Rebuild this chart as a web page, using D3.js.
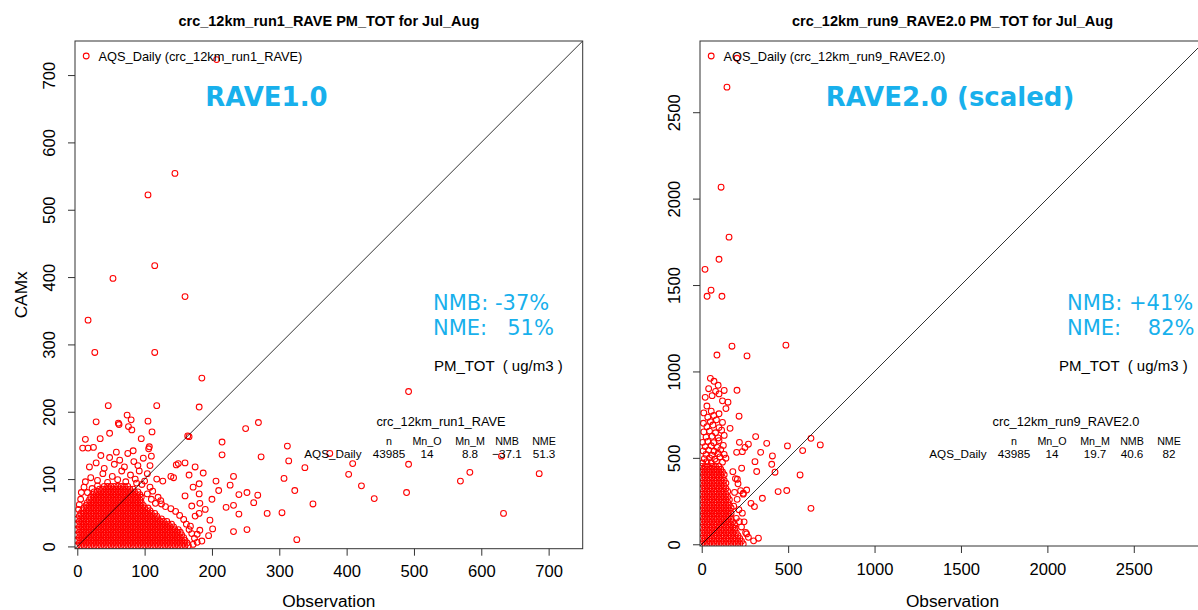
<!DOCTYPE html>
<html>
<head>
<meta charset="utf-8">
<script src="https://cdn.jsdelivr.net/npm/d3@7/dist/d3.min.js"></script>
<style>
  body{margin:0;background:#fff;}
  svg{display:block;font-family:"Liberation Sans",Arial,Helvetica,sans-serif;}
</style>
</head>
<body>
<script>
// ---- data ----
var run1Ticks=[0,100,200,300,400,500,600,700];
var run9Ticks=[0,500,1000,1500,2000,2500];
var statHeaders=["n","Mn_O","Mn_M","NMB","NME"];
var run1Stats=["43985","14","8.8","\u221237.1","51.3"];
var run9Stats=["43985","14","19.7","40.6","82"];

// isolated points [obs, model]
var run1Scatter=[[207,723],[105,522],[145,554],[53,398],[115,417],[160,371],[16,336],[26,288],[115,288],[185,250],
  [492,230],[166,163],[118,209],[46,209],[181,207],[74,195],[80,188],[105,186],[28,185],[62,181],[111,170],
  [12,159],[8,146],[16,146],[24,147],[34,160],[48,168],[61,183],[76,178],[81,173],[95,160],[106,145],[107,148],
  [164,164],[215,155],[215,136],[250,175],[269,184],[273,133],[312,149],[314,127],[307,101],[323,83],[326,10],
  [282,49],[304,50],[252,25],[232,22],[232,61],[240,48],[240,77],[252,80],[262,65],[268,76],[227,91],[232,104],
  [206,97],[210,83],[221,58],[197,39],[201,26],[182,24],[195,16],[182,64],[181,49],[181,78],[181,93],[187,109],
  [175,118],[160,124],[150,123],[147,121],[143,102],[139,104],[166,106],[127,97],[118,100],[375,138],[409,123],
  [338,117],[403,107],[492,122],[583,110],[686,108],[630,134],[422,90],[441,71],[350,63],[489,80],[569,97],
  [633,49],[170,60],[175,45],[168,30],[185,8],[178,18],[190,55],[200,70],[160,75],[172,88]];
// points just above / beside the dense block
var run1Fringe=[[12,96],[20,102],[30,98],[38,108],[45,95],[52,104],[60,99],[66,112],[72,96],[79,106],[86,100],
  [92,112],[100,97],[104,108],[18,118],[28,124],[40,116],[55,122],[63,128],[70,118],[84,126],[90,120],[98,131],
  [35,135],[48,132],[58,140],[75,138],[83,142],[108,120],[110,134],[5,70],[3,62],[2,55],[6,80],[10,88],
  [172,3],[178,6],[174,12],[170,19],[166,25],[162,33],[158,40],[152,46],[146,52],[139,56],[131,59],[125,63],
  [116,64],[124,68],[110,70],[120,73],[104,78],[112,82],[108,88],[96,92],[88,94],[30,90],[22,86],[15,80]];
// dense block, one row per model value: [model, [obs...]]
var run1Core=[
  [1,[0,5,10,15,20,25,30,35,40,45,50,55,60,65,70,75,80,85,90,95,100,105,110,115,120,125,130,135,140,145,150,155,160,165]],
  [5,[3,8,13,18,23,28,33,38,43,48,53,58,63,68,73,78,83,88,93,98,103,108,113,118,123,128,133,138,143,148,153,158,163]],
  [9,[0,5,10,15,20,25,30,35,40,45,50,55,60,65,70,75,80,85,90,95,100,105,110,115,120,125,130,135,140,145,150,155,160]],
  [13,[3,8,13,18,23,28,33,38,43,48,53,58,63,68,73,78,83,88,93,98,103,108,113,118,123,128,133,138,143,148,153,158]],
  [17,[0,5,10,15,20,25,30,35,40,45,50,55,60,65,70,75,80,85,90,95,100,105,110,115,120,125,130,135,140,145,150,155]],
  [21,[3,8,13,18,23,28,33,38,43,48,53,58,63,68,73,78,83,88,93,98,103,108,113,118,123,128,133,138,143,148,153]],
  [25,[0,5,10,15,20,25,30,35,40,45,50,55,60,65,70,75,80,85,90,95,100,105,110,115,120,125,130,135,140,145,150]],
  [29,[3,8,13,18,23,28,33,38,43,48,53,58,63,68,73,78,83,88,93,98,103,108,113,118,123,128,133,138,143]],
  [33,[0,5,10,15,20,25,30,35,40,45,50,55,60,65,70,75,80,85,90,95,100,105,110,115,120,125,130,135,140]],
  [37,[3,8,13,18,23,28,33,38,43,48,53,58,63,68,73,78,83,88,93,98,103,108,113,118,123,128,133]],
  [41,[0,5,10,15,20,25,30,35,40,45,50,55,60,65,70,75,80,85,90,95,100,105,110,115,120,125]],
  [45,[3,8,13,18,23,28,33,38,43,48,53,58,63,68,73,78,83,88,93,98,103,108,113,118]],
  [49,[5,10,15,20,25,30,35,40,45,50,55,60,65,70,75,80,85,90,95,100,105,110,115]],
  [53,[8,13,18,23,28,33,38,43,48,53,58,63,68,73,78,83,88,93,98,103,108]],
  [57,[10,15,20,25,30,35,40,45,50,55,60,65,70,75,80,85,90,95,100,105]],
  [61,[13,18,23,28,33,38,43,48,53,58,63,68,73,78,83,88,93,98]],
  [65,[15,20,25,30,35,40,45,50,55,60,65,70,75,80,85,90,95]],
  [69,[18,23,28,33,38,43,48,53,58,63,68,73,78,83,88,93]],
  [73,[20,25,30,35,40,45,50,55,60,65,70,75,80,85,90,95]],
  [77,[23,28,33,38,43,48,53,58,63,68,73,78,83,88,93]],
  [81,[25,30,35,40,45,50,55,60,65,70,75,80,85,90]],
  [85,[33,38,43,48,53,58,63,68,73,78,83]],
  [89,[40,45,50,55,60,65,70,75]]
];

var run9Scatter=[[632,613],[686,575],[584,542],[496,569],[409,511],[405,463],[424,417],[569,401],[632,208],
  [492,311],[442,305],[351,266],[328,35],[305,218],[285,237],[254,68],[241,295],[260,314],[308,478],[318,421],
  [341,532],[376,584],[312,623],[270,579],[250,560],[218,590],[202,532],[235,536],[164,671],[206,376],[231,440],
  [218,131],[193,93],[180,420],[195,380],[210,350],[190,300],[225,310],[205,260],[240,290],[185,220],[215,200],
  [235,180],[200,150],[245,130],[230,100],[260,60],[270,40],[300,20],
  [204,2812],[146,2645],[112,2066],[158,1777],[100,1649],[19,1591],[54,1470],[31,1435],[117,1435],[175,1146],
  [487,1152],[88,1095],[262,1090],[71,943],[95,920],[80,885],[204,891],[216,741],[152,822]];
var run9Fringe=[[12,760],[55,770],[100,755],[140,785],[30,800],[120,830],[20,850],[60,860],[100,870],[40,900],
  [130,890],[50,960],[35,735],[70,745],
  [5,470],[30,478],[55,472],[85,480],[120,475],[15,495],[45,500],[75,492],[105,505],[140,498],[25,520],[60,515],
  [95,525],[130,520],[8,540],[40,545],[72,538],[110,548],[20,565],[55,570],[90,560],[125,572],[5,590],[35,595],
  [70,588],[100,600],[25,620],[60,625],[95,615],[130,630],[12,650],[45,655],[80,645],[115,660],[30,680],[65,690],
  [100,675],[10,700],[50,710],[85,720],[120,705]];
var run9Core=[
  [2,[0,20,40,60,80,100,120,140,160,180,200,220,240]],
  [18,[10,30,50,70,90,110,130,150,170,190,210,230]],
  [34,[0,20,40,60,80,100,120,140,160,180,200,220]],
  [50,[10,30,50,70,90,110,130,150,170,190,210]],
  [66,[0,20,40,60,80,100,120,140,160,180,200]],
  [82,[10,30,50,70,90,110,130,150,170,190]],
  [98,[0,20,40,60,80,100,120,140,160,180]],
  [114,[10,30,50,70,90,110,130,150,170,190]],
  [130,[0,20,40,60,80,100,120,140,160,180]],
  [146,[10,30,50,70,90,110,130,150,170]],
  [162,[0,20,40,60,80,100,120,140,160]],
  [178,[10,30,50,70,90,110,130,150,170]],
  [194,[0,20,40,60,80,100,120,140,160]],
  [210,[10,30,50,70,90,110,130,150,170]],
  [226,[0,20,40,60,80,100,120,140,160]],
  [242,[10,30,50,70,90,110,130,150]],
  [258,[0,20,40,60,80,100,120,140,160]],
  [274,[10,30,50,70,90,110,130,150]],
  [290,[0,20,40,60,80,100,120,140]],
  [306,[10,30,50,70,90,110,130,150]],
  [322,[0,20,40,60,80,100,120,140]],
  [338,[10,30,50,70,90,110,130]],
  [354,[0,20,40,60,80,100,120,140]],
  [370,[10,30,50,70,90,110,130]],
  [386,[0,20,40,60,80,100,120]],
  [402,[10,30,50,70,90,110,130]],
  [418,[0,20,40,60,80,100,120]],
  [434,[10,30,50,70,90,110]],
  [450,[0,20,40,60,80,100]]
];

var skyBlue="#18b0ec";
var pointRadius=2.9;

var svg=d3.select("body").append("svg")
  .attr("width",1198)
  .attr("height",610);
svg.append("rect").attr("width",1198).attr("height",610).attr("fill","#fff");

function flatten(core,scatter,fringe){
  var pts=[];
  core.forEach(function(row){
    row[1].forEach(function(o){ pts.push([o,row[0]]); });
  });
  return pts.concat(fringe,scatter);
}

function drawPanel(p){
  var x=d3.scaleLinear().domain(p.domain).range([p.left,p.left+p.size]);
  var y=d3.scaleLinear().domain(p.domain).range([p.top+p.size,p.top]);
  var bottom=p.top+p.size;
  var g=svg.append("g");

  svg.append("clipPath").attr("id","clip"+p.id)
    .append("rect")
    .attr("x",p.left).attr("y",p.top)
    .attr("width",p.size).attr("height",p.size);

  // points
  g.append("g").attr("clip-path","url(#clip"+p.id+")")
    .selectAll("circle")
    .data(p.points)
    .enter()
    .append("circle")
      .attr("cx",function(d){ return x(d[0]); })
      .attr("cy",function(d){ return y(d[1]); })
      .attr("r",pointRadius)
      .attr("fill","none")
      .attr("stroke","#ff0000")
      .attr("stroke-width",1.05);

  // 1:1 line
  g.append("line").attr("clip-path","url(#clip"+p.id+")")
    .attr("x1",x(p.domain[0])).attr("y1",y(p.domain[0]))
    .attr("x2",x(p.domain[1])).attr("y2",y(p.domain[1]))
    .attr("stroke","#000").attr("stroke-width",0.8);

  // box
  g.append("rect")
    .attr("x",p.left).attr("y",p.top)
    .attr("width",p.size).attr("height",p.size)
    .attr("fill","none").attr("stroke","#333").attr("stroke-width",1);

  // axes
  var xa=g.append("g")
    .attr("transform","translate(0,"+bottom+")")
    .call(d3.axisBottom(x).tickValues(p.ticks).tickSize(7).tickPadding(10).tickFormat(d3.format("d")));
  xa.select(".domain").remove();
  xa.attr("font-size",16.6).attr("font-family",null);
  xa.selectAll(".tick line").attr("stroke","#333");
  xa.selectAll(".tick text").attr("fill","#000");

  var ya=g.append("g")
    .attr("transform","translate("+p.left+",0)")
    .call(d3.axisLeft(y).tickValues(p.ticks).tickSize(7).tickFormat(d3.format("d")));
  ya.select(".domain").remove();
  ya.attr("font-size",16.6).attr("font-family",null);
  ya.selectAll(".tick line").attr("stroke","#333");
  ya.selectAll(".tick text")
    .attr("fill","#000")
    .attr("transform","rotate(-90)")
    .attr("x",0).attr("y",-20).attr("dy",null)
    .attr("text-anchor","middle");

  var cx=p.left+p.size/2;
  // title
  svg.append("text")
    .attr("x",cx).attr("y",26)
    .attr("text-anchor","middle")
    .attr("font-weight","bold").attr("font-size",14.5)
    .text(p.title);
  svg.append("text")
    .attr("x",cx).attr("y",607)
    .attr("text-anchor","middle").attr("font-size",17.3)
    .text("Observation");
  if(p.ylabel){
    svg.append("text")
      .attr("transform","translate("+(p.left-48)+","+(p.top+p.size/2)+") rotate(-90)")
      .attr("text-anchor","middle").attr("font-size",17.3)
      .text(p.ylabel);
  }

  // legend
  svg.append("circle")
    .attr("cx",p.left+11.2).attr("cy",56).attr("r",pointRadius)
    .attr("fill","none").attr("stroke","#ff0000").attr("stroke-width",1.05);
  svg.append("text")
    .attr("x",p.left+23.5).attr("y",61)
    .attr("font-size",12.8)
    .text(p.legend);

  // big run label
  svg.append("text")
    .attr("x",p.bigX).attr("y",106)
    .attr("text-anchor","middle")
    .attr("font-family","'DejaVu Sans',Verdana,sans-serif")
    .attr("font-weight","bold").attr("font-size",26)
    .attr("fill",skyBlue)
    .text(p.bigLabel);

  // NMB / NME
  p.metrics.forEach(function(t,i){
    svg.append("text")
      .attr("x",p.metricX).attr("y",310+i*25)
      .attr("font-family","'DejaVu Sans',Verdana,sans-serif")
      .attr("font-size",21)
      .attr("fill",skyBlue)
      .style("white-space","pre")
      .text(t);
  });

  svg.append("text")
    .attr("x",p.left+359).attr("y",371)
    .attr("font-size",15)
    .style("white-space","pre")
    .text("PM_TOT  ( ug/m3 )");

  // stats table
  var cols=[314,352,395,432,469];
  svg.append("text")
    .attr("x",p.left+366).attr("y",426)
    .attr("text-anchor","middle").attr("font-size",12.8)
    .text(p.run);
  statHeaders.forEach(function(h,i){
    svg.append("text")
      .attr("x",p.left+cols[i]).attr("y",444.5)
      .attr("text-anchor","middle").attr("font-size",10.7)
      .text(h);
  });
  svg.append("text")
    .attr("x",p.left+286.5).attr("y",458)
    .attr("text-anchor","end").attr("font-size",11.7)
    .text("AQS_Daily");
  p.stats.forEach(function(v,i){
    svg.append("text")
      .attr("x",p.left+cols[i]).attr("y",458)
      .attr("text-anchor","middle").attr("font-size",11.7)
      .text(v);
  });
}

drawPanel({
  id:1, left:75, top:41, size:507.7, domain:[-3.4,750.6], ticks:run1Ticks,
  points:flatten(run1Core,run1Scatter,run1Fringe),
  title:"crc_12km_run1_RAVE PM_TOT for Jul_Aug", ylabel:"CAMx",
  legend:"AQS_Daily (crc_12km_run1_RAVE)",
  bigLabel:"RAVE1.0", bigX:266.5,
  metrics:["NMB: -37%","NME:   51%"], metricX:433,
  run:"crc_12km_run1_RAVE", stats:run1Stats
});

drawPanel({
  id:9, left:700, top:41, size:505, domain:[-10,2912], ticks:run9Ticks,
  points:flatten(run9Core,run9Scatter,run9Fringe),
  title:"crc_12km_run9_RAVE2.0 PM_TOT for Jul_Aug", ylabel:null,
  legend:"AQS_Daily (crc_12km_run9_RAVE2.0)",
  bigLabel:"RAVE2.0 (scaled)", bigX:950,
  metrics:["NMB: +41%","NME:    82%"], metricX:1067,
  run:"crc_12km_run9_RAVE2.0", stats:run9Stats
});
</script>
</body>
</html>
